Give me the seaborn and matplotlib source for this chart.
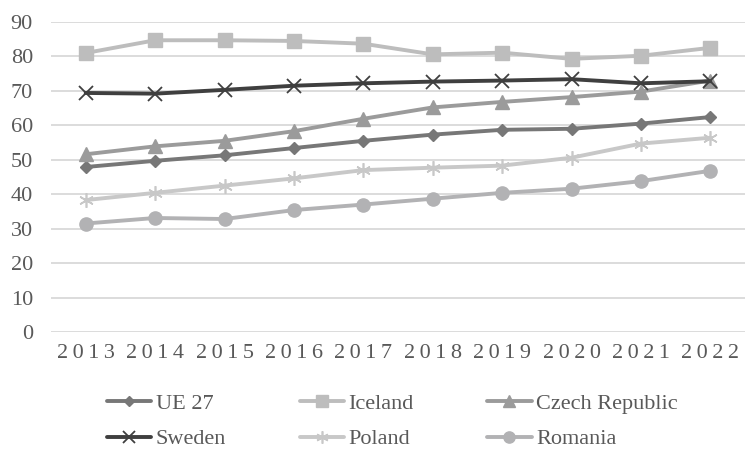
import matplotlib
matplotlib.use("Agg")
import matplotlib.pyplot as plt
import seaborn as sns
import pandas as pd

years = [2013, 2014, 2015, 2016, 2017, 2018, 2019, 2020, 2021, 2022]
ue27 = [47.9, 49.7, 51.3, 53.4, 55.5, 57.3, 58.7, 59.0, 60.5, 62.4]
iceland = [81.0, 84.7, 84.7, 84.5, 83.7, 80.6, 81.1, 79.3, 80.2, 82.5]
czech = [51.6, 53.9, 55.5, 58.3, 61.9, 65.2, 66.8, 68.2, 69.8, 73.0]
sweden = [69.4, 69.2, 70.3, 71.5, 72.2, 72.7, 73.0, 73.4, 72.2, 72.8]
poland = [38.3, 40.4, 42.5, 44.6, 47.0, 47.7, 48.3, 50.6, 54.7, 56.4]
romania = [31.5, 33.1, 32.8, 35.4, 37.0, 38.7, 40.4, 41.6, 43.8, 46.8]

# name: (values, colour, marker, marker size, marker edge width)
series = {
    "UE 27": (ue27, "#777777", "D", 6.5, 1.0),
    "Iceland": (iceland, "#bdbdbd", "s", 9.5, 1.0),
    "Czech Republic": (czech, "#9b9b9b", "^", 10, 1.0),
    "Sweden": (sweden, "#3f3f3f", "x", 10.5, 1.3),
    "Poland": (poland, "#c8c8c8", (6, 2, 0), 10.5, 1.2),
    "Romania": (romania, "#b2b2b4", "o", 9.5, 1.0),
}

rows = []
for name, (vals, _, _, _, _) in series.items():
    for i, (yr, v) in enumerate(zip(years, vals)):
        rows.append({"pos": i, "year": yr, "value": v, "series": name})
df = pd.DataFrame(rows)

sns.set_style("white")
plt.rcParams["font.family"] = ["Liberation Serif", "DejaVu Serif"]

fig = plt.figure(figsize=(7.45, 4.49), dpi=100)
ax = fig.add_axes([51 / 745, 117 / 449, 694 / 745, 310 / 449])

handles = {}
for name, (vals, color, marker, ms, mew) in series.items():
    sub = df[df["series"] == name]
    sns.lineplot(data=sub, x="pos", y="value", ax=ax, color=color, lw=2.8,
                 marker=marker, markersize=ms, markeredgecolor=color,
                 markeredgewidth=mew, legend=False)
    h, = ax.plot([], [], color=color, lw=2.8, marker=marker, markersize=ms * 0.85,
                 markeredgecolor=color, markeredgewidth=mew)
    handles[name] = h

ax.set_xlim(-0.5, len(years) - 0.5)
ax.set_ylim(0, 90)
ax.set_yticks(range(0, 91, 10))
ax.set_xticks(range(len(years)))
ax.set_xticklabels(["\u2009".join(str(y)) for y in years], fontsize=16,
                   color="#595959")
ax.tick_params(axis="y", labelsize=16, labelcolor="#595959", length=0, pad=13)
ax.tick_params(axis="x", length=0, pad=9)
ax.set_xlabel("")
ax.set_ylabel("")
ax.grid(axis="y", color="#d9d9d9", lw=1.3)
ax.set_axisbelow(True)
for s in ax.spines.values():
    s.set_visible(False)

order = ["UE 27", "Sweden", "Iceland", "Poland", "Czech Republic", "Romania"]
fig.legend([handles[n] for n in order], order, loc="upper left",
           bbox_to_anchor=(107 / 745, 1 - 393 / 449), ncol=3, frameon=False,
           fontsize=16, labelcolor="#595959", handlelength=2.0,
           handletextpad=0.2, columnspacing=3.3, labelspacing=0.69,
           borderpad=0, borderaxespad=0)

fig.savefig("out.png", dpi=100)
